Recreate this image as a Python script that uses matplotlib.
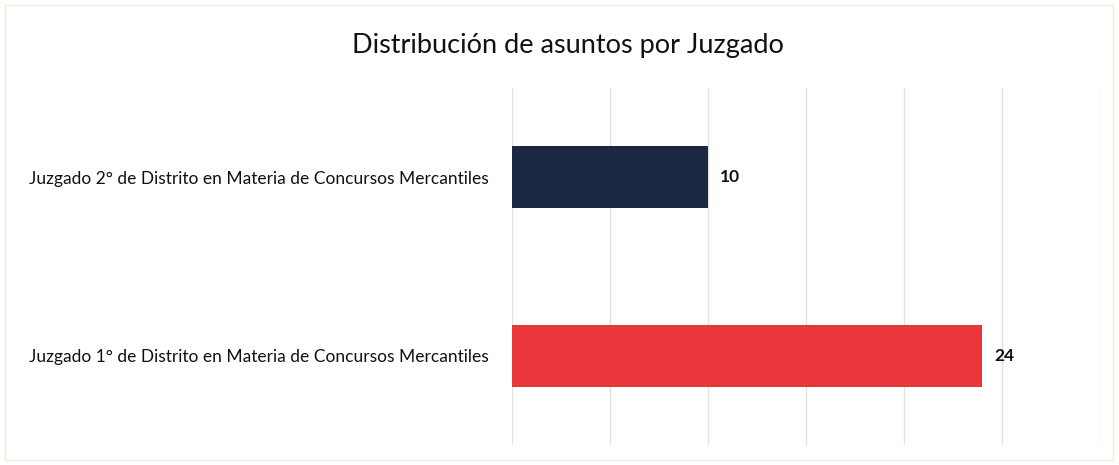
import matplotlib.pyplot as plt
from matplotlib.patches import Rectangle

plt.rcParams['font.family'] = ['Lato', 'DejaVu Sans']

juzgados = [
    'Juzgado 1° de Distrito en Materia de Concursos Mercantiles',
    'Juzgado 2° de Distrito en Materia de Concursos Mercantiles',
]
asuntos = [24, 10]
colores = ['#e8363a', '#1c2741']

fig = plt.figure(figsize=(11.19, 4.65), dpi=100)
ax = fig.add_axes([512 / 1119, 20 / 465, 588 / 1119, 357 / 465])

y = range(len(juzgados))
ax.barh(y, asuntos, height=0.35, color=colores, zorder=3)
for yi, v in zip(y, asuntos):
    ax.text(v + 0.6, yi, str(v), va='center', ha='left', fontsize=12.5,
            fontweight='bold', color='#111111')

ax.set_xlim(0, 30)
ax.set_ylim(-0.5, 1.5)
ax.set_xticks(range(0, 31, 5))
ax.set_xticklabels([])
ax.set_yticks(list(y))
ax.set_yticklabels(juzgados, fontsize=12.5, color='#111111')
ax.tick_params(length=0, pad=17)
ax.grid(axis='x', color='#e4e4d6', linewidth=1, zorder=0)
for s in ax.spines.values():
    s.set_visible(False)

fig.text(568 / 1119, 1 - 45 / 465, 'Distribución de asuntos por Juzgado',
         ha='center', va='center', fontsize=19.5, color='#111111')

fig.patches.append(Rectangle((5 / 1119, 5 / 465), 1108 / 1119, 455 / 465,
                             transform=fig.transFigure, fill=False,
                             edgecolor='#ececdc', linewidth=1))

fig.savefig('out.png', dpi=100)
